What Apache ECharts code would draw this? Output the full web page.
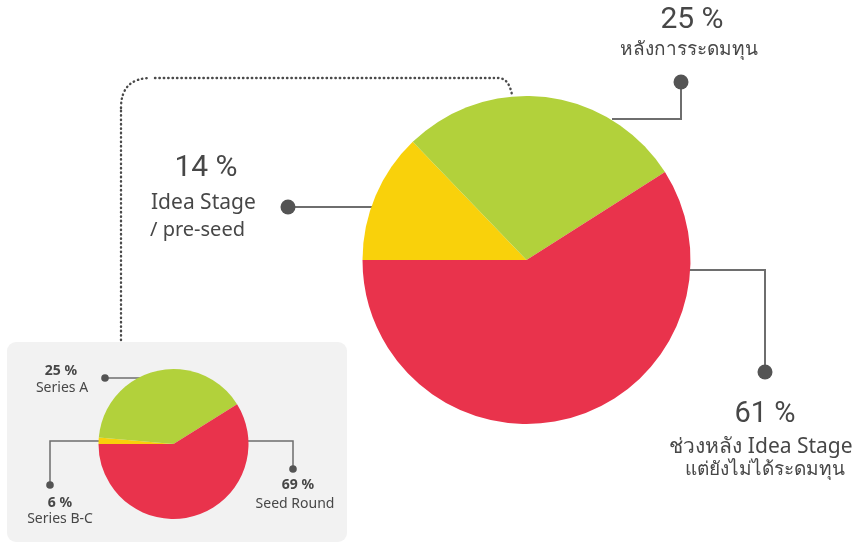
<!DOCTYPE html>
<html><head><meta charset="utf-8">
<script src="https://cdn.jsdelivr.net/npm/echarts@6/dist/echarts.min.js"></script>
<style>html,body{margin:0;padding:0;background:#fff}#c{width:861px;height:544px}</style>
</head><body><div id="c"></div>
<script>
// Big pie (percent labels as printed; slice shares as drawn in the picture)
const bigNames = ['Idea Stage / pre-seed', 'หลังการระดมทุน', 'ช่วงหลัง Idea Stage แต่ยังไม่ได้ระดมทุน'];
const bigPct = [14, 25, 61];
const bigShares = [12.8, 28.2, 59.0];
// Small pie
const smallNames = ['Series B-C', 'Series A', 'Seed Round'];
const smallPct = [6, 25, 69];
const smallShares = [1.4, 39.7, 58.9];
const sliceColors = ['#f9d10b', '#b2d13b', '#e9334c'];

const chart = echarts.init(document.getElementById('c'), null, {renderer: 'canvas'});
const TXT = '#474747';
const LINE = '#6e6e6e';
const bigFont = '"Noto Sans", sans-serif';

function txt(x, y, text, font, align) {
  return {type: 'text', x: x, y: y, z: 20, style: {text: text, fill: TXT, font: font,
    align: align || 'center', textAlign: align || 'center', verticalAlign: 'middle', textVerticalAlign: 'middle'}};
}
function poly(pts, w, c) {
  return {type: 'polyline', z: 1, shape: {points: pts}, style: {stroke: c || LINE, lineWidth: w, fill: null}};
}
function dot(x, y, r) {
  return {type: 'circle', z: 5, shape: {cx: x, cy: y, r: r}, style: {fill: '#545454'}};
}
const dotted = {stroke: '#4a4a4a', lineWidth: 2.4, lineDash: [0.4, 4], lineCap: 'round', fill: null};

const g = [];
g.push({type: 'rect', z: -10, shape: {x: 7, y: 342, width: 340, height: 200, r: 9}, style: {fill: '#f2f2f2'}});
g.push({type: 'polyline', z: 1, shape: {points: [[121,340],[121,108]]}, style: dotted});
g.push({type: 'bezierCurve', z: 1, shape: {x1: 121, y1: 108, cpx1: 121, cpy1: 78, x2: 151, y2: 78}, style: dotted});
g.push({type: 'polyline', z: 1, shape: {points: [[155,78],[494,78]]}, style: dotted});
g.push({type: 'bezierCurve', z: 1, shape: {x1: 498, y1: 78, cpx1: 509, cpy1: 78, x2: 512, y2: 95}, style: dotted});
// big leaders
g.push(poly([[612,119],[681,119],[681,82]], 2));
g.push(dot(681, 82, 7.5));
g.push(poly([[372,207],[288,207]], 2));
g.push(dot(288, 207, 7.5));
g.push(poly([[689,270],[765,270],[765,372]], 2));
g.push(dot(765, 372, 7.5));
// big texts
g.push(txt(692, 20, bigPct[1] + ' %', '30px Roboto, sans-serif'));
g.push(txt(689, 50, 'หลังการระดมทุน', '19px ' + bigFont));
g.push(txt(206, 168, bigPct[0] + ' %', '30px Roboto, sans-serif'));
g.push(txt(151, 203, 'Idea Stage', '21px ' + bigFont, 'left'));
g.push(txt(150, 230, '/ pre-seed', '20px ' + bigFont, 'left'));
g.push(txt(765, 415, bigPct[2] + ' %', '29px Roboto, sans-serif'));
g.push(txt(761, 447, 'ช่วงหลัง Idea Stage', '21px ' + bigFont));
g.push(txt(765, 470, 'แต่ยังไม่ได้ระดมทุน', '19px ' + bigFont));
// small leaders
g.push(poly([[140,378],[105,378]], 1.5));
g.push(dot(105, 378, 3.8));
g.push(poly([[99,441],[50,441],[50,485]], 1.5));
g.push(dot(50, 485, 3.8));
g.push(poly([[248,441],[293,441],[293,469]], 1.5));
g.push(dot(293, 469, 3.8));
// small texts
g.push(txt(61, 371, smallPct[1] + ' %', 'bold 14px ' + bigFont));
g.push(txt(62, 388, smallNames[1], '14px ' + bigFont));
g.push(txt(60, 503, smallPct[0] + ' %', 'bold 14px ' + bigFont));
g.push(txt(60, 519, smallNames[0], '14px ' + bigFont));
g.push(txt(298, 485, smallPct[2] + ' %', 'bold 14px ' + bigFont));
g.push(txt(295, 504, smallNames[2], '14px ' + bigFont));

chart.setOption({
  animation: false,
  backgroundColor: '#ffffff',
  graphic: {elements: g},
  series: [
    {type: 'pie', center: [526.5, 260], radius: 164, startAngle: 180, clockwise: true,
     label: {show: false}, labelLine: {show: false}, silent: true,
     data: bigNames.map((n, i) => ({name: n, value: bigShares[i], itemStyle: {color: sliceColors[i]}}))},
    {type: 'pie', center: [173.5, 444], radius: 75, startAngle: 180, clockwise: true,
     label: {show: false}, labelLine: {show: false}, silent: true,
     data: smallNames.map((n, i) => ({name: n, value: smallShares[i], itemStyle: {color: sliceColors[i]}}))}
  ]
});
</script>
</body></html>
